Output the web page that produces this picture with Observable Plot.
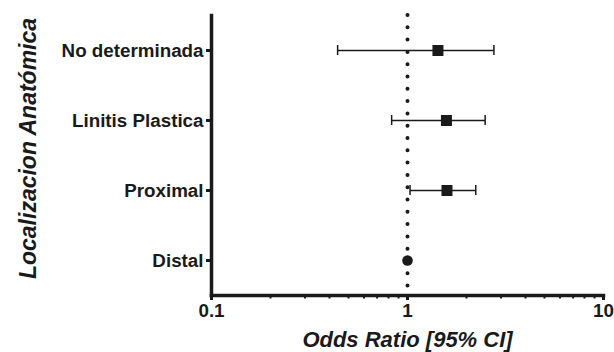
<!DOCTYPE html>
<html>
<head>
<meta charset="utf-8">
<script src="https://cdn.jsdelivr.net/npm/d3@7"></script>
<script src="https://cdn.jsdelivr.net/npm/@observablehq/plot@0.6"></script>
<style>
  html, body { margin: 0; padding: 0; background: #fff; }
  svg { font-family: "Liberation Sans", Arial, sans-serif; }
</style>
</head>
<body>
<div id="chart"></div>
<script>
const categories = ["No determinada", "Linitis Plastica", "Proximal", "Distal"];
const oddsRatio = [1.43, 1.58, 1.59, 1.0];
const ciLow = [0.44, 0.83, 1.03, null];
const ciHigh = [2.76, 2.49, 2.23, null];
const markerShape = ["square", "square", "square", "circle"];
const majorTicks = [0.1, 1, 10];
const minorTicks = [0.2, 0.3, 0.4, 0.5, 0.6, 0.7, 0.8, 0.9, 2, 3, 4, 5, 6, 7, 8, 9];
const xLabel = "Odds Ratio [95% CI]";
const yLabel = "Localizacion Anatómica";

const rows = categories.map((c, i) => ({cat: c, or: oddsRatio[i], lo: ciLow[i], hi: ciHigh[i], shape: markerShape[i]}));
const withCI = rows.filter(d => d.lo != null);
const ink = "#1a1a1a";

const chart = Plot.plot({
  width: 614,
  height: 352,
  marginLeft: 211,
  marginRight: 11,
  marginTop: 15,
  marginBottom: 57,
  style: {fontFamily: "Liberation Sans, Arial, sans-serif", color: ink, background: "#fff"},
  x: {type: "log", domain: [0.1, 10]},
  y: {type: "band", domain: categories, padding: 0},
  marks: [
    // reference line at OR = 1
    Plot.ruleX([1], {stroke: ink, strokeWidth: 4, strokeDasharray: "0,12.3", strokeLinecap: "round"}),
    // x axis minor ticks
    Plot.axisX(minorTicks, {tickSize: 3.5, tickFormat: () => "", label: null, strokeWidth: 2, stroke: ink}),
    // x axis major ticks and labels
    Plot.axisX(majorTicks, {tickSize: 5, tickPadding: 3, tickFormat: d => String(d), label: null, fontSize: 18.8, fontWeight: "bold", strokeWidth: 3, stroke: ink, fill: ink}),
    // y axis
    Plot.axisY({tickSize: 5, tickPadding: 3, label: null, fontSize: 18.8, fontWeight: "bold", strokeWidth: 3, stroke: ink, fill: ink}),
    Plot.frame({anchor: "left", strokeWidth: 3.5, stroke: ink}),
    Plot.frame({anchor: "bottom", strokeWidth: 3.5, stroke: ink}),
    // CI whiskers
    Plot.link(withCI, {x1: "lo", x2: "hi", y1: "cat", y2: "cat", stroke: ink, strokeWidth: 1.5}),
    Plot.tickX(withCI, {x: "lo", y: "cat", insetTop: 30, insetBottom: 30, stroke: ink, strokeWidth: 1.5}),
    Plot.tickX(withCI, {x: "hi", y: "cat", insetTop: 30, insetBottom: 30, stroke: ink, strokeWidth: 1.5}),
    // point estimates
    Plot.dot(rows.filter(d => d.shape === "square"), {x: "or", y: "cat", symbol: "square", r: 6.2, fill: ink, stroke: "none"}),
    Plot.dot(rows.filter(d => d.shape === "circle"), {x: "or", y: "cat", symbol: "circle", r: 5.3, fill: ink, stroke: "none"}),
    // axis titles
    Plot.text([xLabel], {frameAnchor: "bottom", dy: 51, fontSize: 22, fontWeight: "bold", fontStyle: "italic", fill: ink}),
    Plot.text([yLabel], {frameAnchor: "left", textAnchor: "middle", lineAnchor: "middle", dx: -183, dy: -7, rotate: -90, fontSize: 23, fontWeight: "bold", fontStyle: "italic", fill: ink})
  ]
});
document.getElementById("chart").appendChild(chart);
</script>
</body>
</html>
